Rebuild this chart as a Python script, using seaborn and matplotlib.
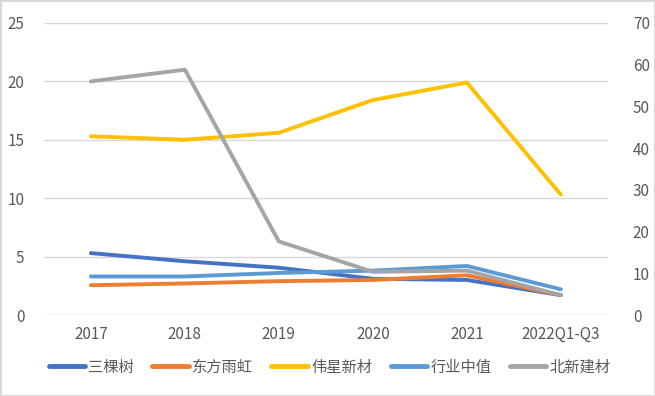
import matplotlib
matplotlib.use("Agg")
import matplotlib.pyplot as plt
import seaborn as sns
import pandas as pd

categories = ["2017", "2018", "2019", "2020", "2021", "2022Q1-Q3"]
s_sankeshu = [5.3, 4.6, 4.05, 3.1, 3.0, 1.7]
s_dongfang = [2.55, 2.7, 2.9, 3.0, 3.4, 1.7]
s_weixing = [15.3, 15.0, 15.6, 18.4, 19.9, 10.3]
s_hangye = [3.3, 3.3, 3.6, 3.8, 4.2, 2.2]
s_beixin = [20.0, 21.0, 6.3, 3.7, 3.8, 1.7]
series_names = ["三棵树", "东方雨虹", "伟星新材", "行业中值", "北新建材"]
colors = ["#4472C4", "#ED7D31", "#FFC000", "#5B9BD5", "#A5A5A5"]
left_ticks = [0, 5, 10, 15, 20, 25]
right_ticks = [0, 10, 20, 30, 40, 50, 60, 70]

sns.set_theme(style="white")
plt.rcParams["font.family"] = ["Noto Sans CJK SC", "DejaVu Sans"]

rows = []
for name, vals in zip(series_names, [s_sankeshu, s_dongfang, s_weixing, s_hangye, s_beixin]):
    for i, (c, v) in enumerate(zip(categories, vals)):
        rows.append({"x": i, "cat": c, "value": v, "series": name})
df = pd.DataFrame(rows)

fig = plt.figure(figsize=(6.55, 3.96), dpi=100)
ax = fig.add_axes([0.067, 0.2045, 0.861, 0.7375])
sns.lineplot(data=df, x="x", y="value", hue="series", hue_order=series_names,
             palette=colors, linewidth=2.8, ax=ax, legend=True,
             solid_capstyle="round", solid_joinstyle="round")
tc = "#595959"
ax.set_xlim(-0.5, len(categories) - 0.5)
ax.set_ylim(0, 25)
ax.set_yticks(left_ticks)
ax.set_xticks(range(len(categories)))
ax.set_xticklabels(categories)
ax.set_xlabel("")
ax.set_ylabel("")
ax.tick_params(axis="both", labelsize=11, colors=tc, length=0, pad=8)
ax.tick_params(axis="y", pad=14)
ax.grid(axis="y", color="#D9D9D9", linewidth=1)
ax.set_axisbelow(True)
for sp in ax.spines.values():
    sp.set_visible(False)

ax2 = ax.twinx()
ax2.set_ylim(0, 70)
ax2.set_yticks(right_ticks)
ax2.tick_params(axis="y", labelsize=11, colors=tc, length=0, pad=18)
for sp in ax2.spines.values():
    sp.set_visible(False)
ax2.grid(False)

handles, labels = ax.get_legend_handles_labels()
ax.legend_.remove()
leg = fig.legend(handles, labels, loc="center", bbox_to_anchor=(0.503, 0.073), ncol=5,
                 frameon=False, fontsize=11, handlelength=2.4, handletextpad=0.2,
                 columnspacing=1.2, labelcolor=tc)
for h in leg.get_lines():
    h.set_linewidth(3.5)

fig.patch.set_edgecolor("#D9D9D9")
fig.patch.set_linewidth(2)
fig.savefig("out.png", dpi=100, edgecolor=fig.get_edgecolor())
